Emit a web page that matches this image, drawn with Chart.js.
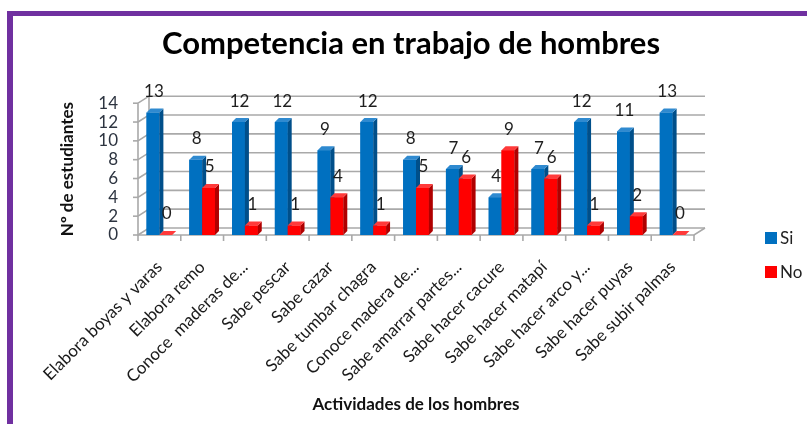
<!DOCTYPE html>
<html>
<head>
<meta charset="utf-8">
<script src="https://cdn.jsdelivr.net/npm/chart.js@4"></script>
<style>
  html, body { margin: 0; padding: 0; background: #fff; }
  #wrap { position: relative; width: 807px; height: 424px; overflow: hidden; }
  #frame { position: absolute; left: 7px; top: 11px; right: -20px; bottom: -20px;
           border-left: 6px solid #7030A0; border-top: 5px solid #7030A0; }
  canvas { position: absolute; left: 0; top: 0; }
</style>
</head>
<body>
<div id="wrap">
  <canvas id="chart" width="807" height="424"></canvas>
  <div id="frame"></div>
</div>
<script>
// Datos
const categories = [
  'Elabora boyas y varas', 'Elabora remo', 'Conoce  maderas de...', 'Sabe pescar',
  'Sabe cazar', 'Sabe tumbar chagra', 'Conoce madera de...', 'Sabe amarrar partes...',
  'Sabe hacer cacure', 'Sabe hacer matapí', 'Sabe hacer arco y...', 'Sabe hacer puyas',
  'Sabe subir palmas'
];
const siValues = [13, 8, 12, 12, 9, 12, 8, 7, 4, 7, 12, 11, 13];
const noValues = [0, 5, 1, 1, 4, 1, 5, 6, 9, 6, 1, 2, 0];
const yTicks = [0, 2, 4, 6, 8, 10, 12, 14];

const FONT = 'Lato';
const DX = 11, DY = -7;   // profundidad del fondo 3D
const BD = 4;             // profundidad de las barras

const faceColors = [
  { front: '#0070C0', side: '#004F8A', top: '#2F8AD0' },
  { front: '#FF0000', side: '#B00000', top: '#FF3A3A' }
];

// Fondo con cuadrícula en perspectiva
const grid3d = {
  id: 'grid3d',
  beforeDatasetsDraw(chart) {
    const { ctx, chartArea: a, scales: { x, y } } = chart;
    ctx.save();
    ctx.strokeStyle = '#A9A9A9';
    ctx.lineWidth = 1.6;
    yTicks.forEach(v => {
      const py = y.getPixelForValue(v);
      ctx.beginPath();
      ctx.moveTo(a.left, py);
      ctx.lineTo(a.left + DX, py + DY);
      ctx.lineTo(a.right + DX, py + DY);
      ctx.stroke();
      ctx.beginPath();
      ctx.moveTo(a.left - 5, py);
      ctx.lineTo(a.left, py);
      ctx.stroke();
    });
    const top = y.getPixelForValue(14), base = y.getPixelForValue(0);
    ctx.beginPath();
    ctx.moveTo(a.left + DX, top + DY);
    ctx.lineTo(a.left + DX, base + DY);
    ctx.stroke();
    ctx.beginPath();
    ctx.moveTo(a.left, top);
    ctx.lineTo(a.left, base);
    ctx.lineTo(a.right, base);
    ctx.lineTo(a.right + DX, base + DY);
    ctx.stroke();
    for (let i = 0; i <= categories.length; i++) {
      const px = x.getPixelForValue(i - 0.5);
      ctx.beginPath();
      ctx.moveTo(px, base);
      ctx.lineTo(px, base + 6);
      ctx.stroke();
    }
    ctx.restore();
  },
  afterDatasetsDraw(chart) {
    const { ctx } = chart;
    ctx.save();
    // caras de las barras, en orden para que el rojo quede delante
    for (let i = 0; i < categories.length; i++) {
      chart.data.datasets.forEach((ds, d) => {
        const el = chart.getDatasetMeta(d).data[i];
        const c = faceColors[d];
        const l = el.x - el.width / 2, r = el.x + el.width / 2;
        ctx.fillStyle = c.front;
        ctx.fillRect(l, el.y, el.width, el.base - el.y);
        ctx.fillStyle = c.side;
        ctx.beginPath();
        ctx.moveTo(r, el.y); ctx.lineTo(r + BD, el.y - BD);
        ctx.lineTo(r + BD, el.base - BD); ctx.lineTo(r, el.base);
        ctx.closePath(); ctx.fill();
        ctx.fillStyle = c.top;
        ctx.beginPath();
        ctx.moveTo(l, el.y); ctx.lineTo(l + BD, el.y - BD);
        ctx.lineTo(r + BD, el.y - BD); ctx.lineTo(r, el.y);
        ctx.closePath(); ctx.fill();
      });
    }
    // etiquetas de valores
    ctx.fillStyle = '#1E1E1E';
    ctx.font = '17px ' + FONT;
    ctx.textAlign = 'center';
    ctx.textBaseline = 'middle';
    chart.data.datasets.forEach((ds, d) => {
      chart.getDatasetMeta(d).data.forEach((el, i) => {
        ctx.fillText(String(ds.data[i]), el.x + 1, el.y - 21);
      });
    });
    ctx.restore();
  },
  afterDraw(chart) {
    const { ctx, chartArea: a } = chart;
    ctx.save();
    ctx.font = '17px ' + FONT;
    ctx.textBaseline = 'middle';
    ctx.textAlign = 'left';
    chart.data.datasets.forEach((ds, d) => {
      const cy = a.bottom + 3 + d * 34;
      const lx = a.right + 71;
      ctx.fillStyle = faceColors[d].front;
      ctx.fillRect(lx, cy - 6, 12, 12);
      ctx.fillStyle = '#222';
      ctx.fillText(ds.label, lx + 15, cy + 1);
    });
    ctx.restore();
  }
};

const ctx = document.getElementById('chart').getContext('2d');
const chart = new Chart(ctx, {
  type: 'bar',
  data: {
    labels: categories,
    datasets: [
      { label: 'Si', data: siValues, backgroundColor: '#0070C0',
        categoryPercentage: 0.6, barPercentage: 1.0 },
      { label: 'No', data: noValues, backgroundColor: '#FF0000',
        categoryPercentage: 0.6, barPercentage: 1.0 }
    ]
  },
  options: {
    responsive: false,
    animation: false,
    layout: { padding: { left: 15, right: 0, top: 0, bottom: 0 } },
    scales: {
      x: {
        grid: { display: false, drawTicks: false },
        border: { display: false },
        ticks: {
          autoSkip: false, minRotation: 45, maxRotation: 45, padding: 22,
          color: '#1A1A1A', font: { family: FONT, size: 17 }
        },
        title: {
          display: true, text: 'Actividades de los hombres', color: '#111',
          font: { family: FONT, size: 17, weight: 'bold' },
          padding: { top: 0, bottom: 9 }
        },
        afterFit(scale) { scale.height = 189; }
      },
      y: {
        min: 0, max: 14,
        grid: { display: false, drawTicks: false },
        border: { display: false },
        ticks: {
          stepSize: 2, autoSkip: false, padding: 20,
          color: '#2D3440', font: { family: FONT, size: 17 }
        },
        title: {
          display: true, text: 'Nº de estudiantes', color: '#111',
          font: { family: FONT, size: 17, weight: 'bold' },
          padding: { top: 42, bottom: 0 }
        },
        afterFit(scale) { scale.width = 123; }
      },
      // espacio reservado para la leyenda de la derecha
      legendSpace: {
        type: 'linear', position: 'right', display: true,
        grid: { display: false, drawTicks: false },
        border: { display: false },
        ticks: { display: false },
        afterFit(scale) { scale.width = 113; }
      }
    },
    plugins: {
      legend: { display: false },
      tooltip: { enabled: false },
      title: {
        display: true, text: 'Competencia en trabajo de hombres', color: '#000',
        font: { family: FONT, size: 31, weight: 'bold' },
        padding: { top: 25, bottom: 41 }
      }
    }
  },
  plugins: [grid3d]
});
</script>
</body>
</html>
